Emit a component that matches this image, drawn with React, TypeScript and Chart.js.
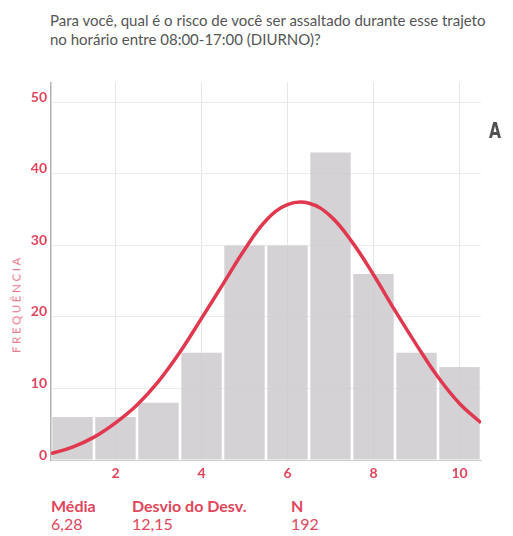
import React, { useEffect, useRef } from "react";
import { Chart, registerables } from "chart.js";

Chart.register(...registerables);

// Histogram: answers on a 1–10 scale
const binCenters = [1, 2, 3, 4, 5, 6, 7, 8, 9, 10];
const frequencies = [6, 6, 8, 15, 30, 30, 43, 26, 15, 13];

// Fitted normal curve, sampled every half step
const curveX = [0.5, 1, 1.5, 2, 2.5, 3, 3.5, 4, 4.5, 5, 5.5, 6, 6.5, 7, 7.5, 8, 8.5, 9, 9.5, 10, 10.5];
const curveY = [0.9, 1.8, 3.2, 5.2, 7.7, 11.0, 15.1, 19.8, 24.6, 29.4, 33.5, 35.7, 35.9, 34.1, 30.5, 25.9, 20.9, 16.1, 11.6, 7.9, 5.2];

const xTicks = [2, 4, 6, 8, 10];
const yTicks = [0, 10, 20, 30, 40, 50];

const statLabels = ["Média", "Desvio do Desv.", "N"];
const statValues = ["6,28", "12,15", "192"];
const statLeft = [51, 132, 291];

const RED = "#e0394f";
const TICK_RED = "#e0465b";
const FONT = "Lato, 'Open Sans', sans-serif";

function Histogram() {
  const canvasRef = useRef<HTMLCanvasElement | null>(null);

  useEffect(() => {
    const canvas = canvasRef.current;
    if (!canvas) return;
    const chart = new Chart(canvas, {
      type: "bar",
      data: {
        datasets: [
          {
            type: "line",
            data: curveX.map((x, i) => ({ x, y: curveY[i] })),
            borderColor: RED,
            borderWidth: 3.5,
            pointRadius: 0,
            tension: 0.4,
            fill: false,
            order: 0,
          } as any,
          {
            type: "bar",
            data: binCenters.map((x, i) => ({ x, y: frequencies[i] })),
            backgroundColor: "rgba(202,200,204,0.82)",
            borderWidth: 0,
            barPercentage: 1,
            categoryPercentage: 0.94,
            order: 1,
          } as any,
        ],
      },
      options: {
        animation: false,
        responsive: false,
        devicePixelRatio: 1,
        layout: { padding: { left: 0, right: 32, top: 8, bottom: 5 } },
        plugins: { legend: { display: false }, tooltip: { enabled: false } },
        scales: {
          x: {
            type: "linear",
            min: 0.5,
            max: 10.5,
            offset: false,
            afterBuildTicks: (s: any) => {
              s.ticks = xTicks.map((v) => ({ value: v }));
            },
            afterFit: (s: any) => {
              s.height = 25;
            },
            grid: { color: "#e6e6e6", lineWidth: 1, drawTicks: false, offset: false },
            border: { display: true, color: "#cfcfcf", width: 1 },
            ticks: {
              color: TICK_RED,
              padding: 5,
              font: { family: FONT, size: 14, weight: "bold" },
            },
          },
          y: {
            type: "linear",
            min: 0,
            max: 52.8,
            afterBuildTicks: (s: any) => {
              s.ticks = yTicks.map((v) => ({ value: v }));
            },
            afterFit: (s: any) => {
              s.width = 51;
            },
            grid: { color: "#ececec", lineWidth: 1, drawTicks: false },
            border: { display: true, color: "#b4b4b4", width: 1.5 },
            ticks: {
              color: TICK_RED,
              padding: 4,
              labelOffset: -5,
              font: { family: FONT, size: 14, weight: "bold" },
            },
          },
        },
      },
    });
    return () => chart.destroy();
  }, []);

  return <canvas ref={canvasRef} width={513} height={420} style={{ display: "block" }} />;
}

export default function App() {
  return (
    <div
      style={{
        position: "absolute",
        left: 0,
        top: 0,
        width: 513,
        height: 536,
        background: "#fff",
        fontFamily: FONT,
        overflow: "hidden",
      }}
    >
      <div
        style={{
          position: "absolute",
          left: 50,
          top: 11,
          fontSize: 15,
          lineHeight: "19px",
          color: "#555",
          whiteSpace: "nowrap",
        }}
      >
        Para você, qual é o risco de você ser assaltado durante esse trajeto
        <br />
        no horário entre 08:00-17:00 (DIURNO)?
      </div>

      <div style={{ position: "absolute", left: 0, top: 70 }}>
        <Histogram />
      </div>

      <div
        style={{
          position: "absolute",
          left: 16,
          top: 304,
          transform: "translate(-50%, -50%) rotate(-90deg)",
          fontSize: 11.5,
          letterSpacing: 2.6,
          color: "#e87486",
          whiteSpace: "nowrap",
        }}
      >
        FREQUÊNCIA
      </div>

      <div
        style={{
          position: "absolute",
          left: 489,
          top: 119,
          fontSize: 21,
          fontWeight: 700,
          lineHeight: "24px",
          fontFamily: "'DejaVu Sans Condensed', 'DejaVu Sans', sans-serif",
          color: "#505050",
          transform: "scaleX(0.82)",
          transformOrigin: "left top",
        }}
      >
        A
      </div>

      {statLabels.map((label, i) => (
        <div
          key={label}
          style={{
            position: "absolute",
            left: statLeft[i],
            top: 497,
            color: TICK_RED,
            fontSize: 16,
            lineHeight: "18px",
          }}
        >
          <div style={{ fontWeight: 700 }}>{label}</div>
          <div>{statValues[i]}</div>
        </div>
      ))}
    </div>
  );
}
